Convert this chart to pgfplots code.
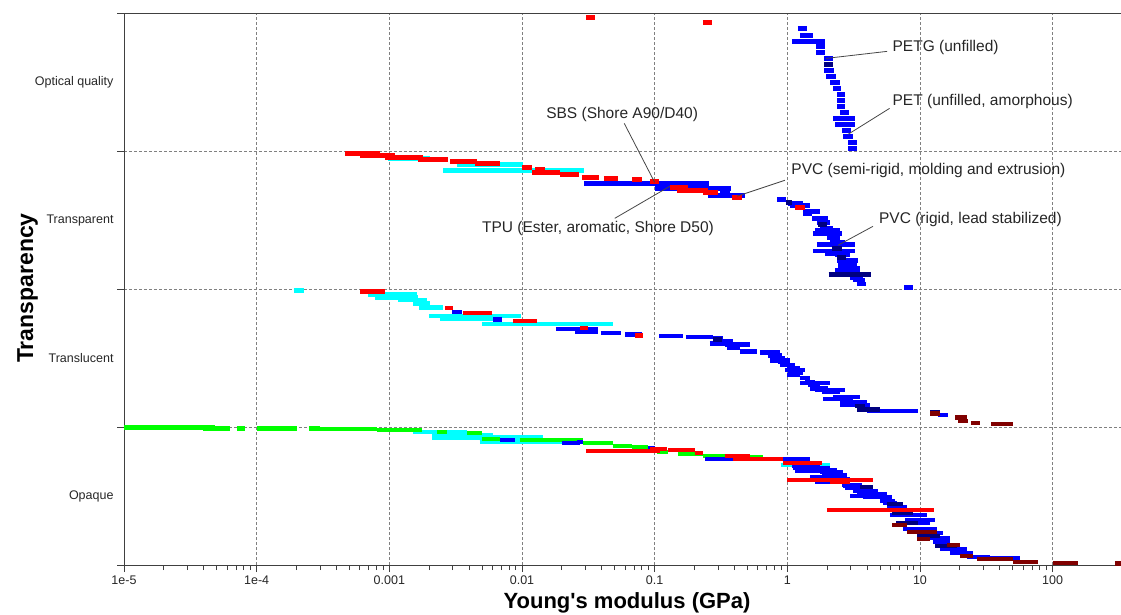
\documentclass[border=0pt]{standalone}
\usepackage{pgfplots}
\pgfplotsset{compat=1.18}
\usepackage{fontspec}
\setmainfont{Liberation Sans}
\definecolor{cred}{RGB}{255,0,0}
\definecolor{cblue}{RGB}{0,0,255}
\definecolor{ccyan}{RGB}{0,255,255}
\definecolor{cgreen}{RGB}{0,255,0}
\definecolor{cnavy}{RGB}{0,0,128}
\definecolor{cdred}{RGB}{128,0,0}
\definecolor{annline}{RGB}{70,70,70}
\begin{document}
\begin{tikzpicture}
\useasboundingbox (0,0) rectangle (1121pt,614pt);
\begin{axis}[
 at={(124pt,49pt)}, anchor=south west,
 scale only axis, width=1001pt, height=552pt,
 xmode=log, xmin=1e-5, xmax=351, ymin=0, ymax=4,
 xtick={1e-5,1e-4,1e-3,1e-2,1e-1,1,10,100},
 xticklabels={1e-5,1e-4,0.001,0.01,0.1,1,10,100},
 ytick={0,1,2,3,4},
 yticklabels={Opaque,Translucent,Transparent,Optical quality},
 y tick label as interval,
 tick pos=left, tick align=outside,
 major tick length=7pt, minor tick length=5pt,
 xmajorgrids, ymajorgrids,
 grid style={densely dashed, gray, line width=0.5pt},
 axis line style={black!75, line width=0.9pt},
 tick style={black!75, line width=0.9pt},
 ticklabel style={font=\fontsize{12.5}{15}\selectfont, text=black!85},
 unbounded coords=jump,
 every axis plot/.append style={line width=4.6pt, mark=none, line cap=butt},
]
% cyan
\addplot[ccyan] table[row sep=\\]{x y\\
9.77e-4 2.947\\ 2.03e-3 2.947\\ nan nan\\
3.24e-3 2.903\\ 1.02e-2 2.903\\ nan nan\\
2.54e-3 2.860\\ 2.93e-2 2.860\\ nan nan\\
1.91e-4 1.991\\ 2.27e-4 1.991\\ nan nan\\
6.9e-4 1.962\\ 1.62e-3 1.962\\ nan nan\\
7.8e-4 1.940\\ 1.65e-3 1.940\\ nan nan\\
1.16e-3 1.919\\ 1.92e-3 1.919\\ nan nan\\
1.51e-3 1.897\\ 2.03e-3 1.897\\ nan nan\\
1.67e-3 1.868\\ 2.54e-3 1.868\\ nan nan\\
1.99e-3 1.803\\ 9.84e-3 1.803\\ nan nan\\
2.41e-3 1.788\\ 6.05e-3 1.788\\ nan nan\\
4.99e-3 1.745\\ 4.85e-2 1.745\\ nan nan\\
1.51e-3 0.963\\ 3.85e-3 0.963\\ nan nan\\
2.10e-3 0.941\\ 6.05e-3 0.941\\ nan nan\\
2.10e-3 0.919\\ 9.6e-3 0.919\\ nan nan\\
6.05e-3 0.927\\ 1.44e-2 0.927\\ nan nan\\
4.8e-3 0.891\\ 2.6e-2 0.891\\ nan nan\\
1.0e-2 0.898\\ 2.44e-2 0.898\\ nan nan\\
0.89 0.724\\ 2.10 0.724\\
};
% green
\addplot[cgreen] table[row sep=\\]{x y\\
1.0e-5 0.995\\ 4.85e-5 0.995\\ nan nan\\
3.94e-5 0.990\\ 6.28e-5 0.990\\ nan nan\\
7.1e-5 0.990\\ 8.17e-5 0.990\\ nan nan\\
1.0e-4 0.990\\ 2.01e-4 0.990\\ nan nan\\
2.48e-4 0.990\\ 3.0e-4 0.990\\ nan nan\\
3.0e-4 0.985\\ 8.06e-4 0.985\\ nan nan\\
8.06e-4 0.977\\ 1.76e-3 0.977\\ nan nan\\
2.29e-3 0.963\\ 2.72e-3 0.963\\ nan nan\\
3.85e-3 0.956\\ 4.99e-3 0.956\\ nan nan\\
4.99e-3 0.912\\ 6.83e-3 0.912\\ nan nan\\
9.6e-3 0.905\\ 2.88e-2 0.905\\ nan nan\\
2.88e-2 0.883\\ 4.85e-2 0.883\\ nan nan\\
4.85e-2 0.862\\ 6.75e-2 0.862\\ nan nan\\
6.75e-2 0.854\\ 8.9e-2 0.854\\ nan nan\\
6.9e-2 0.840\\ 9.2e-2 0.840\\ nan nan\\
0.104 0.818\\ 0.126 0.818\\ nan nan\\
0.150 0.804\\ 0.231 0.804\\ nan nan\\
0.231 0.789\\ 0.339 0.789\\ nan nan\\
0.524 0.782\\ 0.655 0.782\\ nan nan\\
0.87 0.767\\ 0.93 0.767\\
};
% blue
\addplot[cblue] table[row sep=\\]{x y\\
1.20 3.888\\ 1.41 3.888\\ nan nan\\
1.25 3.838\\ 1.56 3.838\\ nan nan\\
1.08 3.794\\ 1.92 3.794\\ nan nan\\
1.65 3.758\\ 1.92 3.758\\ nan nan\\
1.65 3.715\\ 1.92 3.715\\ nan nan\\
1.89 3.671\\ 2.21 3.671\\ nan nan\\
1.89 3.584\\ 2.25 3.584\\ nan nan\\
1.96 3.541\\ 2.33 3.541\\ nan nan\\
2.10 3.497\\ 2.50 3.497\\ nan nan\\
2.21 3.454\\ 2.54 3.454\\ nan nan\\
2.37 3.411\\ 2.72 3.411\\ nan nan\\
2.37 3.367\\ 2.72 3.367\\ nan nan\\
2.37 3.324\\ 2.72 3.324\\ nan nan\\
2.50 3.280\\ 2.92 3.280\\ nan nan\\
2.21 3.237\\ 3.24 3.237\\ nan nan\\
2.29 3.193\\ 3.24 3.193\\ nan nan\\
2.58 3.150\\ 3.02 3.150\\ nan nan\\
2.63 3.106\\ 3.13 3.106\\ nan nan\\
2.87 3.063\\ 3.35 3.063\\ nan nan\\
2.87 3.020\\ 3.35 3.020\\ nan nan\\
2.93e-2 2.766\\ 0.257 2.766\\ nan nan\\
0.1 2.730\\ 0.376 2.730\\ nan nan\\
0.310 2.694\\ 0.369 2.694\\ nan nan\\
0.252 2.679\\ 0.480 2.679\\ nan nan\\
0.836 2.650\\ 0.977 2.650\\ nan nan\\
1.01 2.621\\ 1.31 2.621\\ nan nan\\
1.05 2.607\\ 1.48 2.607\\ nan nan\\
1.31 2.563\\ 1.76 2.563\\ nan nan\\
1.31 2.549\\ 1.54 2.549\\ nan nan\\
1.54 2.512\\ 2.03 2.512\\ nan nan\\
1.67 2.483\\ 2.10 2.483\\ nan nan\\
1.76 2.440\\ 2.21 2.440\\ nan nan\\
1.62 2.426\\ 2.50 2.426\\ nan nan\\
1.56 2.404\\ 2.58 2.404\\ nan nan\\
1.99 2.375\\ 2.50 2.375\\ nan nan\\
2.10 2.339\\ 2.72 2.339\\ nan nan\\
1.67 2.324\\ 3.24 2.324\\ nan nan\\
1.56 2.274\\ 3.24 2.274\\ nan nan\\
1.92 2.259\\ 2.97 2.259\\ nan nan\\
2.29 2.245\\ 2.97 2.245\\ nan nan\\
2.37 2.208\\ 3.41 2.208\\ nan nan\\
2.41 2.172\\ 3.35 2.172\\ nan nan\\
2.50 2.150\\ 3.55 2.150\\ nan nan\\
2.29 2.136\\ 3.55 2.136\\ nan nan\\
2.97 2.085\\ 3.72 2.085\\ nan nan\\
3.13 2.064\\ 3.85 2.064\\ nan nan\\
3.35 2.035\\ 3.92 2.035\\ nan nan\\
7.58 2.013\\ 8.86 2.013\\ nan nan\\
2.97e-3 1.832\\ 3.53e-3 1.832\\ nan nan\\
6.05e-3 1.781\\ 7.07e-3 1.781\\ nan nan\\
1.80e-2 1.709\\ 3.73e-2 1.709\\ nan nan\\
2.51e-2 1.694\\ 3.73e-2 1.694\\ nan nan\\
3.94e-2 1.680\\ 5.57e-2 1.680\\ nan nan\\
5.98e-2 1.672\\ 8.03e-2 1.672\\ nan nan\\
0.108 1.658\\ 0.163 1.658\\ nan nan\\
0.172 1.651\\ 0.275 1.651\\ nan nan\\
0.275 1.643\\ 0.327 1.643\\ nan nan\\
0.285 1.622\\ 0.389 1.622\\ nan nan\\
0.261 1.607\\ 0.351 1.607\\ nan nan\\
0.339 1.600\\ 0.524 1.600\\ nan nan\\
0.351 1.578\\ 0.439 1.578\\ nan nan\\
0.439 1.549\\ 0.590 1.549\\ nan nan\\
0.622 1.542\\ 0.880 1.542\\ nan nan\\
0.715 1.520\\ 0.910 1.520\\ nan nan\\
0.78 1.499\\ 0.96 1.499\\ nan nan\\
0.74 1.484\\ 1.05 1.484\\ nan nan\\
0.85 1.470\\ 1.01 1.470\\ nan nan\\
0.88 1.448\\ 1.14 1.448\\ nan nan\\
1.0 1.426\\ 1.25 1.426\\ nan nan\\
0.96 1.412\\ 1.36 1.412\\ nan nan\\
1.01 1.390\\ 1.31 1.390\\ nan nan\\
1.0 1.376\\ 1.25 1.376\\ nan nan\\
1.25 1.354\\ 1.48 1.354\\ nan nan\\
1.36 1.325\\ 1.62 1.325\\ nan nan\\
1.25 1.318\\ 2.10 1.318\\ nan nan\\
1.43 1.303\\ 1.76 1.303\\ nan nan\\
1.48 1.281\\ 2.03 1.281\\ nan nan\\
1.62 1.267\\ 2.72 1.267\\ nan nan\\
1.83 1.253\\ 2.50 1.253\\ nan nan\\
2.21 1.216\\ 3.53 1.216\\ nan nan\\
1.86 1.202\\ 3.13 1.202\\ nan nan\\
2.50 1.180\\ 3.99 1.180\\ nan nan\\
2.50 1.158\\ 4.20 1.158\\ nan nan\\
3.99 1.115\\ 9.6 1.115\\ nan nan\\
13.7 1.086\\ 16.3 1.086\\ nan nan\\
6.83e-3 0.905\\ 8.86e-3 0.905\\ nan nan\\
2.0e-2 0.883\\ 2.74e-2 0.883\\ nan nan\\
2.6e-2 0.891\\ 2.88e-2 0.891\\ nan nan\\
8.9e-2 0.847\\ 0.1 0.847\\ nan nan\\
0.241 0.767\\ 0.389 0.767\\ nan nan\\
0.93 0.767\\ 1.48 0.767\\ nan nan\\
1.08 0.717\\ 1.76 0.717\\ nan nan\\
1.10 0.702\\ 2.10 0.702\\ nan nan\\
1.31 0.688\\ 2.37 0.688\\ nan nan\\
1.14 0.680\\ 1.76 0.680\\ nan nan\\
1.76 0.673\\ 2.63 0.673\\ nan nan\\
1.83 0.652\\ 2.82 0.652\\ nan nan\\
1.48 0.637\\ 2.82 0.637\\ nan nan\\
1.48 0.623\\ 2.97 0.623\\ nan nan\\
1.62 0.601\\ 2.72 0.601\\ nan nan\\
2.63 0.572\\ 2.97 0.572\\ nan nan\\
2.58 0.579\\ 3.65 0.579\\ nan nan\\
2.72 0.557\\ 4.42 0.557\\ nan nan\\
3.13 0.536\\ 4.8 0.536\\ nan nan\\
3.35 0.514\\ 5.65 0.514\\ nan nan\\
2.97 0.500\\ 4.99 0.500\\ nan nan\\
3.73 0.492\\ 6.15 0.492\\ nan nan\\
4.99 0.463\\ 6.50 0.463\\ nan nan\\
5.27 0.449\\ 6.75 0.449\\ nan nan\\
5.65 0.420\\ 7.99 0.420\\ nan nan\\
4.20 0.398\\ 7.07 0.398\\ nan nan\\
5.94 0.362\\ 11.3 0.362\\ nan nan\\
7.7 0.326\\ 13.0 0.326\\ nan nan\\
7.07 0.304\\ 11.9 0.304\\ nan nan\\
7.44 0.261\\ 13.4 0.261\\ nan nan\\
9.5 0.232\\ 14.9 0.232\\ nan nan\\
10.0 0.195\\ 16.8 0.195\\ nan nan\\
12.5 0.166\\ 16.8 0.166\\ nan nan\\
14.1 0.116\\ 22.6 0.116\\ nan nan\\
16.8 0.087\\ 25.1 0.087\\ nan nan\\
22.6 0.058\\ 33.7 0.058\\ nan nan\\
33.7 0.051\\ 56.7 0.051\\
};
% navy
\addplot[cnavy] table[row sep=\\]{x y\\
1.89 3.628\\ 2.21 3.628\\ nan nan\\
0.977 2.628\\ 1.08 2.628\\ nan nan\\
1.70 2.469\\ 1.99 2.469\\ nan nan\\
2.17 2.295\\ 2.58 2.295\\ nan nan\\
2.37 2.230\\ 2.77 2.230\\ nan nan\\
2.05 2.107\\ 4.28 2.107\\ nan nan\\
0.275 1.636\\ 0.321 1.636\\ nan nan\\
3.24 1.151\\ 3.85 1.151\\ nan nan\\
3.35 1.129\\ 4.99 1.129\\ nan nan\\
11.9 1.108\\ 14.1 1.108\\ nan nan\\
19.3 1.057\\ 21.8 1.057\\ nan nan\\
3.53 0.565\\ 4.42 0.565\\ nan nan\\
5.65 0.442\\ 7.45 0.442\\ nan nan\\
6.2 0.376\\ 8.86 0.376\\ nan nan\\
6.6 0.304\\ 9.7 0.304\\ nan nan\\
9.5 0.210\\ 14.1 0.210\\ nan nan\\
13.0 0.137\\ 19.0 0.137\\
};
% dark red
\addplot[cdred] table[row sep=\\]{x y\\
11.9 1.100\\ 14.1 1.100\\ nan nan\\
18.4 1.071\\ 22.6 1.071\\ nan nan\\
19.3 1.043\\ 23.0 1.043\\ nan nan\\
24.2 1.028\\ 28.3 1.028\\ nan nan\\
34.3 1.021\\ 50.2 1.021\\ nan nan\\
6.2 0.290\\ 8.0 0.290\\ nan nan\\
8.0 0.239\\ 13.4 0.239\\ nan nan\\
9.5 0.188\\ 11.9 0.188\\ nan nan\\
16.0 0.145\\ 20.0 0.145\\ nan nan\\
20.0 0.065\\ 25.1 0.065\\ nan nan\\
26.9 0.043\\ 50.2 0.043\\ nan nan\\
50.2 0.022\\ 77.6 0.022\\ nan nan\\
100 0.014\\ 155 0.014\\ nan nan\\
295 0.010\\ 350 0.010\\
};
% red
\addplot[cred] table[row sep=\\]{x y\\
0.0304 3.968\\ 0.0355 3.968\\ nan nan\\
0.231 3.932\\ 0.270 3.932\\ nan nan\\
4.63e-4 2.983\\ 8.50e-4 2.983\\ nan nan\\
6.0e-4 2.969\\ 1.10e-3 2.969\\ nan nan\\
9.28e-4 2.954\\ 1.79e-3 2.954\\ nan nan\\
1.65e-3 2.940\\ 2.77e-3 2.940\\ nan nan\\
2.87e-3 2.925\\ 4.58e-3 2.925\\ nan nan\\
4.42e-3 2.911\\ 6.83e-3 2.911\\ nan nan\\
1.0e-2 2.882\\ 1.19e-2 2.882\\ nan nan\\
1.25e-2 2.867\\ 1.49e-2 2.867\\ nan nan\\
1.19e-2 2.846\\ 1.93e-2 2.846\\ nan nan\\
1.93e-2 2.831\\ 2.69e-2 2.831\\ nan nan\\
2.83e-2 2.809\\ 3.80e-2 2.809\\ nan nan\\
4.15e-2 2.802\\ 5.29e-2 2.802\\ nan nan\\
6.75e-2 2.795\\ 8.03e-2 2.795\\ nan nan\\
9.22e-2 2.780\\ 0.108 2.780\\ nan nan\\
0.130 2.737\\ 0.178 2.737\\ nan nan\\
0.147 2.715\\ 0.252 2.715\\ nan nan\\
0.231 2.701\\ 0.300 2.701\\ nan nan\\
0.382 2.664\\ 0.454 2.664\\ nan nan\\
1.14 2.592\\ 1.36 2.592\\ nan nan\\
6.0e-4 1.984\\ 9.28e-4 1.984\\ nan nan\\
2.63e-3 1.861\\ 3.02e-3 1.861\\ nan nan\\
3.59e-3 1.825\\ 5.95e-3 1.825\\ nan nan\\
8.56e-3 1.767\\ 1.30e-2 1.767\\ nan nan\\
2.74e-2 1.716\\ 3.14e-2 1.716\\ nan nan\\
7.12e-2 1.665\\ 8.17e-2 1.665\\ nan nan\\
3.04e-2 0.825\\ 0.110 0.825\\ nan nan\\
9.2e-2 0.840\\ 0.124 0.840\\ nan nan\\
0.126 0.833\\ 0.201 0.833\\ nan nan\\
0.201 0.811\\ 0.231 0.811\\ nan nan\\
0.339 0.789\\ 0.524 0.789\\ nan nan\\
0.389 0.767\\ 0.93 0.767\\ nan nan\\
0.93 0.738\\ 1.83 0.738\\ nan nan\\
1.0 0.615\\ 4.42 0.615\\ nan nan\\
2.10 0.601\\ 2.97 0.601\\ nan nan\\
1.99 0.398\\ 12.8 0.398\\
};
% annotations
\begin{scope}[annline, line width=0.8pt]
\draw (axis cs:5.65,3.722) -- (axis cs:1.96,3.671);
\draw (axis cs:5.9,3.309) -- (axis cs:2.87,3.121);
\draw (axis cs:5.9e-2,3.200) -- (axis cs:0.1,2.773);
\draw (axis cs:0.96,2.788) -- (axis cs:0.417,2.672);
\draw (axis cs:4.42,2.454) -- (axis cs:2.41,2.317);
\draw (axis cs:5.0e-2,2.512) -- (axis cs:0.130,2.744);
\end{scope}
\begin{scope}[every node/.style={anchor=west, inner sep=0pt, text=black!85, font=\fontsize{15.5}{18}\selectfont}]
\node at (axis cs:6.2,3.751) {PETG (unfilled)};
\node at (axis cs:6.2,3.360) {PET (unfilled, amorphous)};
\node at (axis cs:1.52e-2,3.266) {SBS (Shore A90/D40)};
\node at (axis cs:1.07,2.860) {PVC (semi-rigid, molding and extrusion)};
\node at (axis cs:4.9,2.505) {PVC (rigid, lead stabilized)};
\node at (axis cs:4.99e-3,2.440) {TPU (Ester, aromatic, Shore D50)};
\end{scope}
\end{axis}
\node[anchor=base, font=\fontsize{22}{26}\selectfont\bfseries] at (627pt,6pt) {Young\textquotesingle s modulus (GPa)};
\node[anchor=base, rotate=90, font=\fontsize{23}{27}\selectfont\bfseries] at (33pt,326pt) {Transparency};
\end{tikzpicture}
\end{document}
